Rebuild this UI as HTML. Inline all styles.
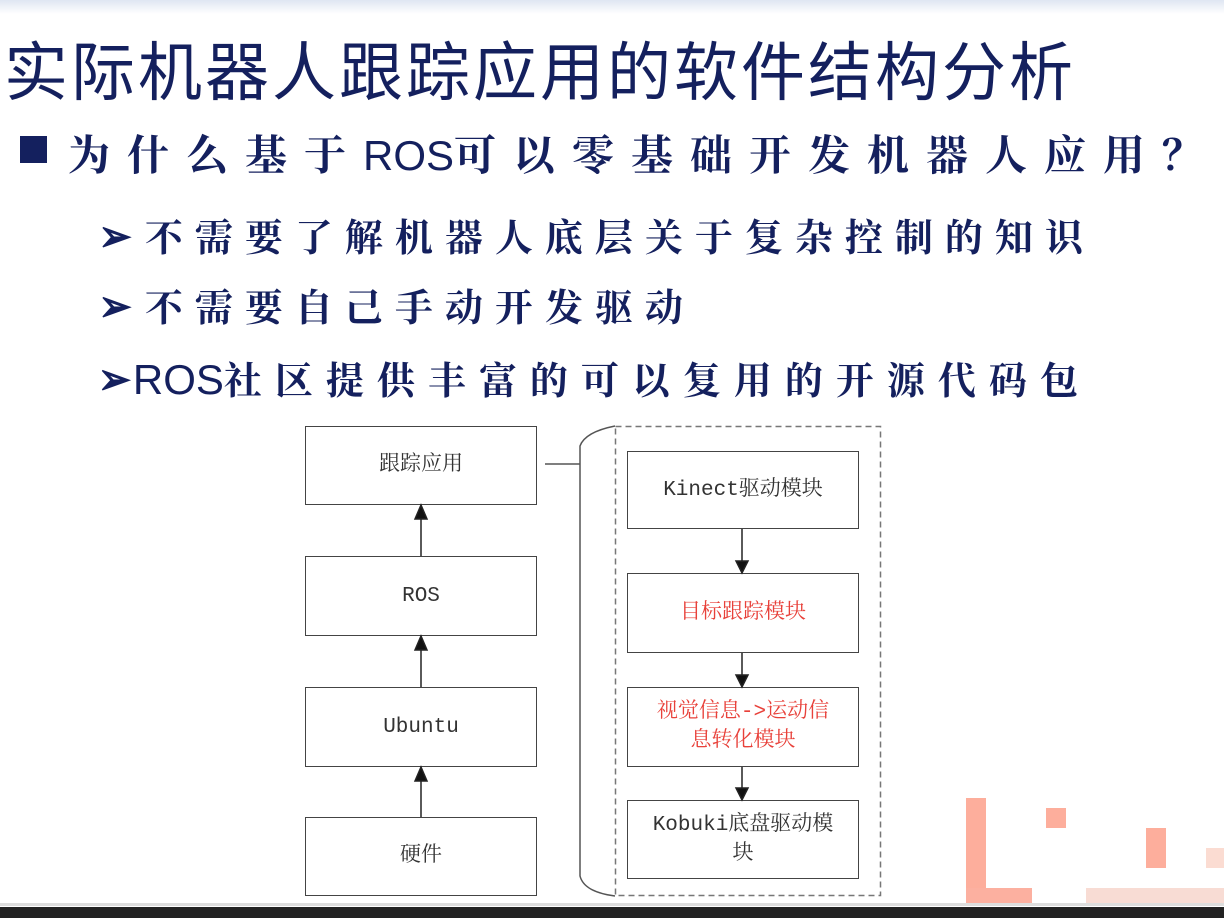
<!DOCTYPE html>
<html><head><meta charset="utf-8"><style>
body{margin:0;width:1224px;height:918px;background:#fff;position:relative;overflow:hidden;font-family:"Liberation Sans","Noto Sans CJK SC",sans-serif}
.a{position:absolute}
.t{color:#14205e;white-space:nowrap}
.bx{position:absolute;border:1.5px solid #444;box-sizing:border-box;display:flex;align-items:center;justify-content:center;text-align:center;font-family:"Liberation Mono","Noto Serif CJK SC",serif;font-size:21px;color:#333;line-height:29px}
.r{color:#e8413a}
.p{position:absolute;background:#fdae9c}
.ar{font-size:44px;display:inline-block;transform:scaleX(0.9)}
</style></head><body>
<div class="a" style="left:0;top:0;width:1224px;height:14px;background:linear-gradient(#dfe6f2,#fff)"></div>
<div class="a t" style="left:4px;top:28px;font-size:64px;letter-spacing:3px;font-family:'Noto Sans CJK SC',sans-serif;line-height:80px">实际机器人跟踪应用的软件结构分析</div>
<div class="a" style="left:20px;top:136px;width:27px;height:27px;background:#14205e"></div>
<div class="a t" style="left:68px;top:126px;font-size:42px;letter-spacing:17px;font-weight:bold;line-height:54px;font-family:'Noto Serif CJK SC',serif">为什么基于<span style="font-family:'Liberation Sans';letter-spacing:0;font-weight:normal">ROS</span>可以零基础开发机器人应用？</div>
<div class="a t" style="left:96px;top:206px;font-size:38px;letter-spacing:12px;font-weight:bold;line-height:52px;font-family:'Noto Serif CJK SC',serif"><span class="ar">➢</span>不需要了解机器人底层关于复杂控制的知识</div>
<div class="a t" style="left:96px;top:276px;font-size:38px;letter-spacing:12px;font-weight:bold;line-height:52px;font-family:'Noto Serif CJK SC',serif"><span class="ar">➢</span>不需要自己手动开发驱动</div>
<div class="a t" style="left:96px;top:349px;font-size:38px;letter-spacing:13px;font-weight:bold;line-height:52px;font-family:'Noto Serif CJK SC',serif"><span class="ar" style="letter-spacing:0">➢</span><span style="font-family:'Liberation Sans';letter-spacing:0;font-weight:normal;font-size:42px">ROS</span>社区提供丰富的可以复用的开源代码包</div>

<div class="bx" style="left:305px;top:426px;width:232px;height:79px">跟踪应用</div>
<div class="bx" style="left:305px;top:556px;width:232px;height:80px">ROS</div>
<div class="bx" style="left:305px;top:687px;width:232px;height:80px">Ubuntu</div>
<div class="bx" style="left:305px;top:817px;width:232px;height:79px">硬件</div>
<div class="bx" style="left:627px;top:451px;width:232px;height:78px">Kinect驱动模块</div>
<div class="bx r" style="left:627px;top:573px;width:232px;height:80px">目标跟踪模块</div>
<div class="bx r" style="left:627px;top:687px;width:232px;height:80px">视觉信息->运动信<br>息转化模块</div>
<div class="bx" style="left:627px;top:800px;width:232px;height:79px">Kobuki底盘驱动模<br>块</div>

<svg class="a" style="left:0;top:0" width="1224" height="918">
<g stroke="#222" stroke-width="1.5" fill="#111">
<line x1="421" y1="556" x2="421" y2="515"/><polygon points="415,519 427,519 421,505"/>
<line x1="421" y1="687" x2="421" y2="646"/><polygon points="415,650 427,650 421,636"/>
<line x1="421" y1="817" x2="421" y2="777"/><polygon points="415,781 427,781 421,767"/>
<line x1="742" y1="529" x2="742" y2="565"/><polygon points="736,561 748,561 742,573"/>
<line x1="742" y1="653" x2="742" y2="679"/><polygon points="736,675 748,675 742,687"/>
<line x1="742" y1="767" x2="742" y2="792"/><polygon points="736,788 748,788 742,800"/>
</g>
<rect x="615.5" y="426.5" width="265" height="469" fill="none" stroke="#777" stroke-width="1.5" stroke-dasharray="6,4"/>
<path d="M615,426 Q585,432 580,446 L580,876 Q584,892 615,896" fill="none" stroke="#555" stroke-width="1.5"/>
<line x1="545" y1="464" x2="580" y2="464" stroke="#555" stroke-width="1.5"/>
</svg>

<div class="p" style="left:966px;top:798px;width:20px;height:108px"></div>
<div class="p" style="left:966px;top:888px;width:66px;height:18px;background:#fcb0a0"></div>
<div class="p" style="left:1046px;top:808px;width:20px;height:20px"></div>
<div class="p" style="left:1146px;top:828px;width:20px;height:40px"></div>
<div class="p" style="left:1206px;top:848px;width:18px;height:20px;background:#fbdcd2"></div>
<div class="p" style="left:1086px;top:888px;width:138px;height:18px;background:#f8dcd4"></div>
<div class="a" style="left:0;top:903px;width:1224px;height:3px;background:#ddd"></div>
<div class="a" style="left:0;top:907px;width:1224px;height:11px;background:#222"></div>
</body></html>
